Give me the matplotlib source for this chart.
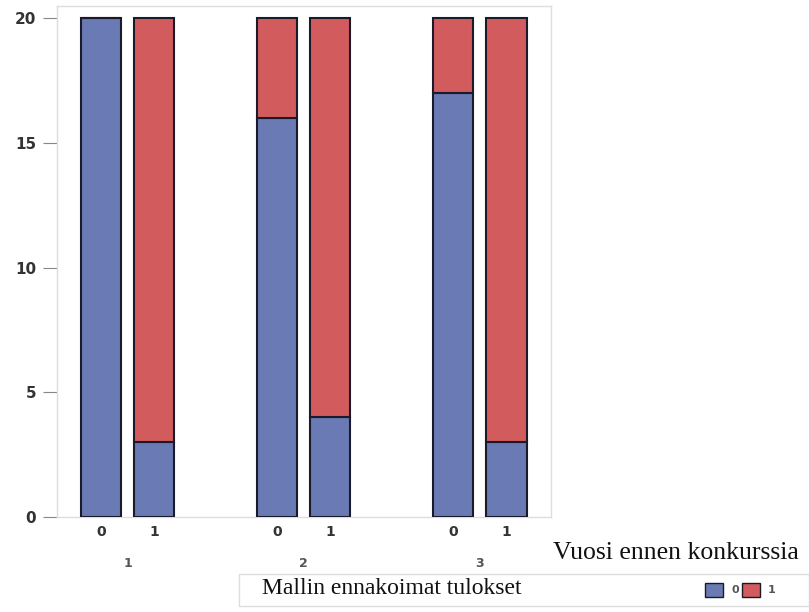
import matplotlib
matplotlib.use("Agg")
import matplotlib.pyplot as plt
from matplotlib.patches import Rectangle

groups = ["1", "2", "3"]
sub_labels = ["0", "1"]
series_names = ["0", "1"]
vals0 = [20, 3, 16, 4, 17, 3]
vals1 = [0, 17, 4, 16, 3, 17]
yticks = [0, 5, 10, 15, 20]

blue = "#6a7ab5"
red = "#d25b5e"
edge = "#1a1a2a"

fig = plt.figure(figsize=(8.09, 6.12), dpi=100)
ax = fig.add_axes([0.0705, 0.1552, 0.611, 0.835])

gap = 3.3
pos = []
xt_labels = []
for g in range(len(groups)):
    for j in range(len(sub_labels)):
        pos.append(g * gap + j)
        xt_labels.append(sub_labels[j])

w = 0.75
ax.bar(pos, vals0, width=w, color=blue, edgecolor=edge, linewidth=1.5, zorder=3)
ax.bar(pos, vals1, width=w, bottom=vals0, color=red, edgecolor=edge, linewidth=1.5, zorder=3)

ax.set_xlim(-0.82, 2 * gap + 1 + 0.84)
ax.set_ylim(0, 20.5)
ax.set_yticks(yticks)
ax.set_yticklabels([str(t) for t in yticks], fontsize=11, color="#333333", fontweight="bold")
ax.tick_params(axis="y", length=10, width=0.8, color="#888888", pad=5)
ax.set_xticks(pos)
ax.set_xticklabels(xt_labels, fontsize=10, color="#333333", fontweight="bold")
ax.tick_params(axis="x", length=0, pad=6)

for s in ax.spines.values():
    s.set_color("#dddddd")
    s.set_linewidth(1.0)

# group labels
for g, lab in enumerate(groups):
    xc = g * gap + 0.5
    ax.text(xc, -0.09, lab, transform=ax.get_xaxis_transform(), ha="center", va="center",
            fontsize=9, color="#555555", fontweight="bold")

fig.text(553 / 809, 1 - 553 / 612, "Vuosi ennen konkurssia", fontsize=18.5,
         family="Liberation Serif", color="#111111", ha="left", va="center")

# legend box
fig.patches.append(Rectangle((239 / 809, 1 - 606 / 612), (809 - 239) / 809, 32 / 612,
                             transform=fig.transFigure, facecolor="white",
                             edgecolor="#dddddd", linewidth=1.0))
fig.text(262 / 809, 1 - 589 / 612, "Mallin ennakoimat tulokset", fontsize=17,
         family="Liberation Serif", color="#111111", ha="left", va="center")
for x0, col, lab in [(705, blue, series_names[0]), (742, red, series_names[1])]:
    fig.patches.append(Rectangle((x0 / 809, 1 - 597 / 612), 18 / 809, 14 / 612,
                                 transform=fig.transFigure, facecolor=col,
                                 edgecolor=edge, linewidth=1.0))
    fig.text((x0 + 26) / 809, 1 - 590 / 612, lab, fontsize=8, color="#555555",
             ha="left", va="center", fontweight="bold")

fig.savefig("out.png", dpi=100)
